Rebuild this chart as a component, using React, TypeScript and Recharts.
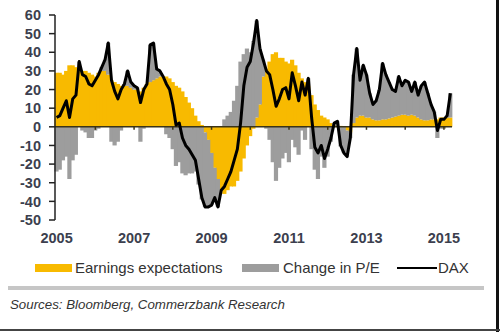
import React from 'react';
import { ComposedChart, Bar, Line, XAxis, YAxis, ReferenceLine } from 'recharts';

// monthly readings, Jan 2005 .. Mar 2015 (% yoy)
const START_YEAR = 2005;

const earnings = [
  29, 29, 28, 30, 33, 33, 32, 31, 30, 30, 29, 28,
  27, 29, 30, 30, 28, 25, 24, 23, 22, 22, 22, 21,
  20, 20, 19, 21, 23, 24, 25, 26, 27, 27, 27, 26,
  24, 22, 21, 19, 16, 13, 10, 6, 3, 1, -3, -7,
  -14, -22, -28, -34, -36, -34, -32, -32, -29, -24, -17, -10,
  -5, -1, 5, 12, 27, 31, 35, 39, 40, 37, 37, 35,
  34, 36, 33, 29, 26, 24, 22, 17, 12, 9, 6, 5,
  4, 2, 1, 0.5, 0.5, 0, -2, -3, 2, 5, 6, 6,
  5, 5, 4, 3.5, 3.5, 4, 4, 4.5, 5, 5.5, 6, 6.5,
  6.5, 6, 6.5, 6, 5, 4, 3.5, 3.5, 4, 4, 4, 5,
  5, 5, 5,
];

const peChange = [
  -24, -23, -18, -16, -28, -18, -15, 4, -2, -3, -6, -6,
  -2, -1, 2, 6, 17, -8, -10, -8, -2, 1, 8, 3,
  2, 1, -8, -1, 0, 20, 20, 5, 3, 0, -4, -6,
  -12, -21, -19, -25, -26, -25, -25, -24, -31, -39, -40, -36,
  -28, -16, -15, 0, 4, 6, 8, 14, 22, 35, 39, 42,
  40, 46, 52, 30, 9, -1, -7, -19, -29, -22, -17, -14,
  -19, -7, -11, -15, -2, -7, 4, -12, -23, -28, -16, -22,
  -16, -8, 1, 2.5, -10.5, -14, -14, -3, 26, 37, 19, 27,
  23, 13, 8, 10.5, 16.5, 30, 24, 19.5, 15, 13.5, 21, 15.5,
  18.5, 18, 12.5, 18, 12, 18, 20.5, 14.5, 8, 4, -6, -1,
  -1, 1, 13,
];

const dax = [
  5, 6, 10, 14, 5, 15, 17, 35, 28, 27, 23, 22,
  25, 28, 32, 36, 45, 25, 19, 15, 20, 23, 30, 24,
  22, 21, 13, 20, 23, 44, 45, 31, 30, 27, 23, 20,
  12, 1, 2, -6, -10, -12, -15, -18, -28, -38, -43, -43,
  -42, -38, -43, -34, -32, -28, -24, -18, -12, 2, 22, 32,
  35, 45, 57, 42, 36, 30, 28, 20, 11, 15, 20, 21,
  15, 29, 22, 14, 24, 17, 26, 5, -11, -14, -10, -17,
  -12, -6, 2, 3, -10, -14, -16, -6, 28, 42, 25, 33,
  28, 18, 12, 14, 20, 34, 28, 24, 20, 19, 27, 22,
  25, 24, 19, 24, 17, 22, 24, 18, 12, 8, -2, 4,
  4, 6, 18,
];

const yTicks = [-50, -40, -30, -20, -10, 0, 10, 20, 30, 40, 50, 60];
const xTicks = [2005, 2007, 2009, 2011, 2013, 2015];
const yearMarks = [2006, 2007, 2008, 2009, 2010, 2011, 2012, 2013, 2014, 2015];

// P/E part is stacked on top of earnings when both share a sign, otherwise it starts at zero
const data = dax.map((d, i) => {
  const e = earnings[i];
  const p = peChange[i];
  const base = p >= 0 ? Math.max(e, 0) : Math.min(e, 0);
  return {
    t: START_YEAR + i / 12,
    earnings: e,
    pe: p >= 0 ? [base, base + p] : [base + p, base],
    dax: d,
  };
});

const FONT = '"Liberation Sans", Arial, sans-serif';
const ORANGE = '#F8BA00';
const GREY = '#9d9d9d';
const LABEL = '#3c3f4e';

const XTick = (props: any) => {
  const { x, y, payload } = props;
  return (
    <text x={x} y={y + 15} textAnchor="middle" fill={LABEL} fontSize={14.5} fontWeight="bold" fontFamily={FONT}>
      {payload.value}
    </text>
  );
};

// plain rect, widened a touch so neighbouring months close up
const solidBar = (color: string) => (props: any) => {
  const { x, y, width, height } = props;
  if (!height) return <g />;
  const top = Math.min(y, y + height);
  return <rect x={x - 0.6} y={top} width={width + 1.2} height={Math.abs(height)} fill={color} />;
};

export default function App() {
  return (
    <div style={{ position: 'absolute', left: 0, top: 0, width: 500, height: 332, background: '#fff', fontFamily: FONT, overflow: 'hidden' }}>
      <ComposedChart
        width={500}
        height={260}
        data={data}
        barCategoryGap="0%"
        barGap={0}
        margin={{ top: 15, right: 48, bottom: 0, left: 0 }}
      >
        <XAxis
          dataKey="t"
          type="category"
          ticks={xTicks}
          interval={0}
          axisLine={false}
          tickLine={false}
          height={40}
          tick={<XTick />}
        />
        <XAxis xAxisId="pe" dataKey="t" type="category" hide />
        <YAxis
          domain={[-50, 60]}
          ticks={yTicks}
          interval={0}
          width={55}
          axisLine={{ stroke: '#222', strokeWidth: 1.5 }}
          tickLine={{ stroke: '#222', strokeWidth: 1.5 }}
          tickSize={6}
          tickMargin={8}
          tick={{ fill: LABEL, fontSize: 14.5, fontWeight: 'bold', fontFamily: FONT }}
        />
        <Bar dataKey="earnings" fill={ORANGE} shape={solidBar(ORANGE)} isAnimationActive={false} />
        <Bar dataKey="pe" xAxisId="pe" fill={GREY} shape={solidBar(GREY)} isAnimationActive={false} />
        <ReferenceLine y={0} stroke="#3b3416" strokeWidth={1.5} />
        {yearMarks.map((yr) => (
          <ReferenceLine
            key={yr}
            segment={[{ x: yr, y: 0 }, { x: yr, y: -1.6 }]}
            stroke="#3b3416"
            strokeWidth={1.5}
          />
        ))}
        <Line
          dataKey="dax"
          type="linear"
          stroke="#000"
          strokeWidth={3}
          strokeLinejoin="round"
          dot={false}
          isAnimationActive={false}
        />
      </ComposedChart>

      {/* legend */}
      <div style={{ position: 'absolute', left: 35, top: 264, width: 37, height: 8, background: ORANGE }} />
      <div style={{ position: 'absolute', left: 75, top: 259, fontSize: 15, color: '#333', lineHeight: '18px' }}>Earnings expectations</div>
      <div style={{ position: 'absolute', left: 242, top: 264, width: 37, height: 8, background: GREY }} />
      <div style={{ position: 'absolute', left: 283, top: 259, fontSize: 15, color: '#333', lineHeight: '18px' }}>Change in P/E</div>
      <div style={{ position: 'absolute', left: 397, top: 267, width: 40, height: 2, background: '#000' }} />
      <div style={{ position: 'absolute', left: 438, top: 259, fontSize: 15, color: '#333', lineHeight: '18px' }}>DAX</div>

      <div style={{ position: 'absolute', left: 8, top: 286, width: 476, height: 4, background: '#c6c6c6' }} />
      <div style={{ position: 'absolute', left: 10, top: 297, fontSize: 13.3, fontStyle: 'italic', color: '#333', lineHeight: '16px' }}>
        Sources: Bloomberg, Commerzbank Research
      </div>

      <div style={{ position: 'absolute', left: 496, top: 0, width: 3, height: 332, background: '#111' }} />
      <div style={{ position: 'absolute', left: 0, top: 329, width: 500, height: 2, background: '#444' }} />
    </div>
  );
}
